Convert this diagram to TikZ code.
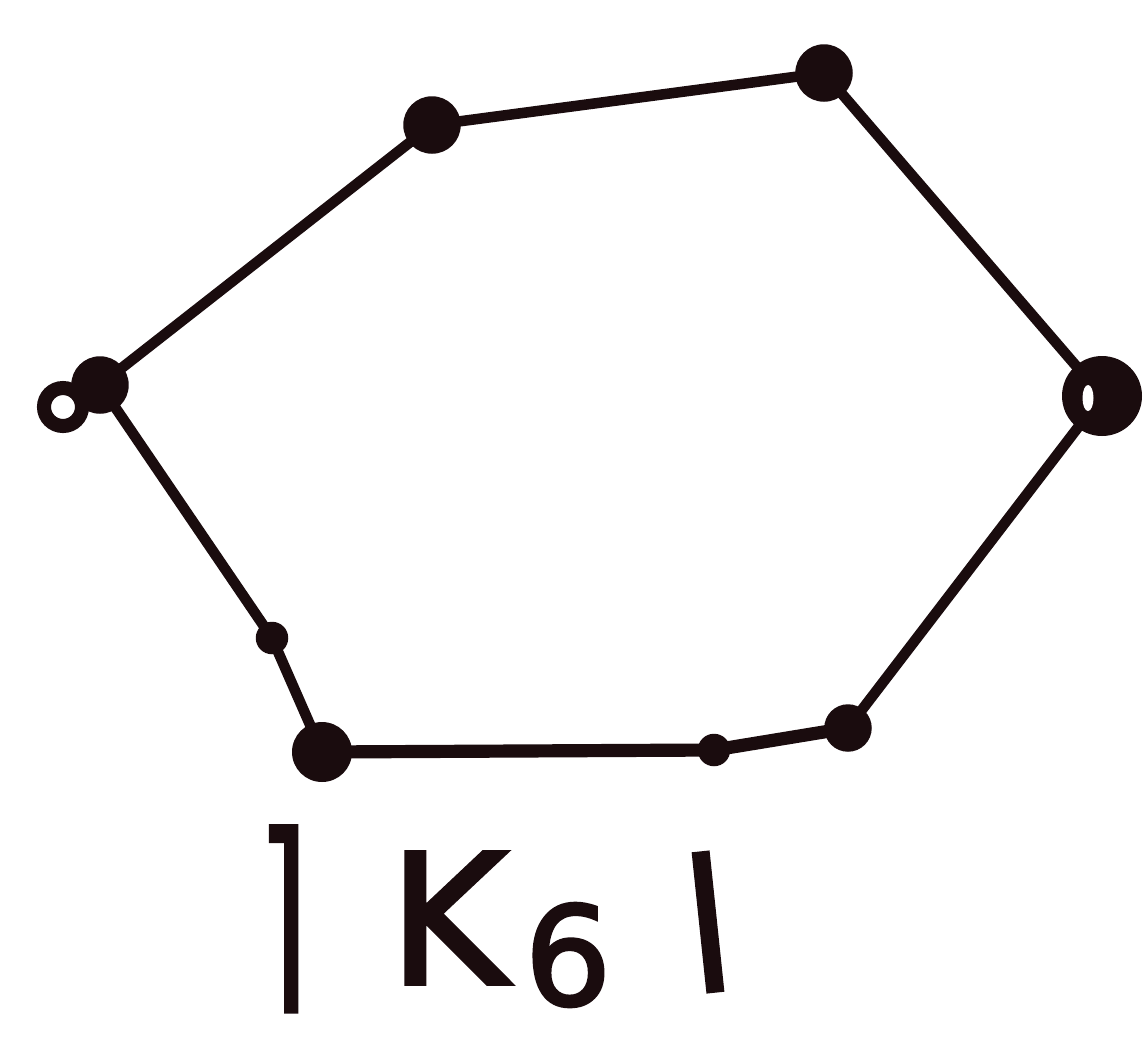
\documentclass[tikz,border=0pt]{standalone}
\usepackage{fontspec}
\newfontfamily\hand[FakeBold=2.2]{DejaVu Sans}
\newfontfamily\handheavy[FakeBold=5]{DejaVu Sans}
\definecolor{ink}{HTML}{1A0C0E}
\begin{document}
\begin{tikzpicture}[x=0.02cm,y=-0.02cm,
  edge/.style={line width=6pt, draw=ink, line cap=round, line join=round},
  vtx/.style={circle, fill=ink, minimum size=1.15cm, inner sep=0pt},
  blob/.style={circle, fill=ink, minimum size=0.65cm, inner sep=0pt},
  lbl/.style={text=ink, inner sep=0pt}]
\useasboundingbox[fill=white] (0,0) rectangle (1146,1059);
% vertices
\node[vtx] (a) at (100,385) {};
\node[vtx] (b) at (432,125) {};
\node[vtx] (c) at (824,73) {};
\node[vtx, minimum size=1.6cm] (d) at (1102,396) {};
\node[vtx, minimum size=0.95cm] (e) at (848,728) {};
\node[vtx, minimum size=1.2cm] (f) at (322,752) {};
\node[blob] (g) at (272,638) {};
\node[blob] (h) at (714,750) {};
% edges
\draw[edge] (a.center) -- (b.center);
\draw[edge] (b.center) -- (c.center);
\draw[edge] (c.center) -- (d.center);
\draw[edge] (d.center) -- (e.center);
\draw[edge, line width=7.5pt] (e.center) -- (h.center) -- (f.center);
\draw[edge] (f.center) -- (g.center) -- (a.center);
% hand-drawn loop at left vertex and hole in right vertex
\draw[ink, line width=8pt] (63,407) circle (0.38cm);
\fill[white] (1088,398) ellipse (0.11cm and 0.26cm);
% label
\node[lbl, anchor=north] (neg) at (283,826) {\hand\fontsize{118}{118}\selectfont\scalebox{0.62}[1]{⌉}};
\node[lbl] (k) at (448,918) {\hand\fontsize{103}{103}\selectfont K};
\node[lbl] (six) at (568,955) {\hand\fontsize{78}{78}\selectfont 6};
\node[lbl, rotate=6] (bar) at (708,922) {\handheavy\fontsize{77}{77}\selectfont |};
\end{tikzpicture}
\end{document}
